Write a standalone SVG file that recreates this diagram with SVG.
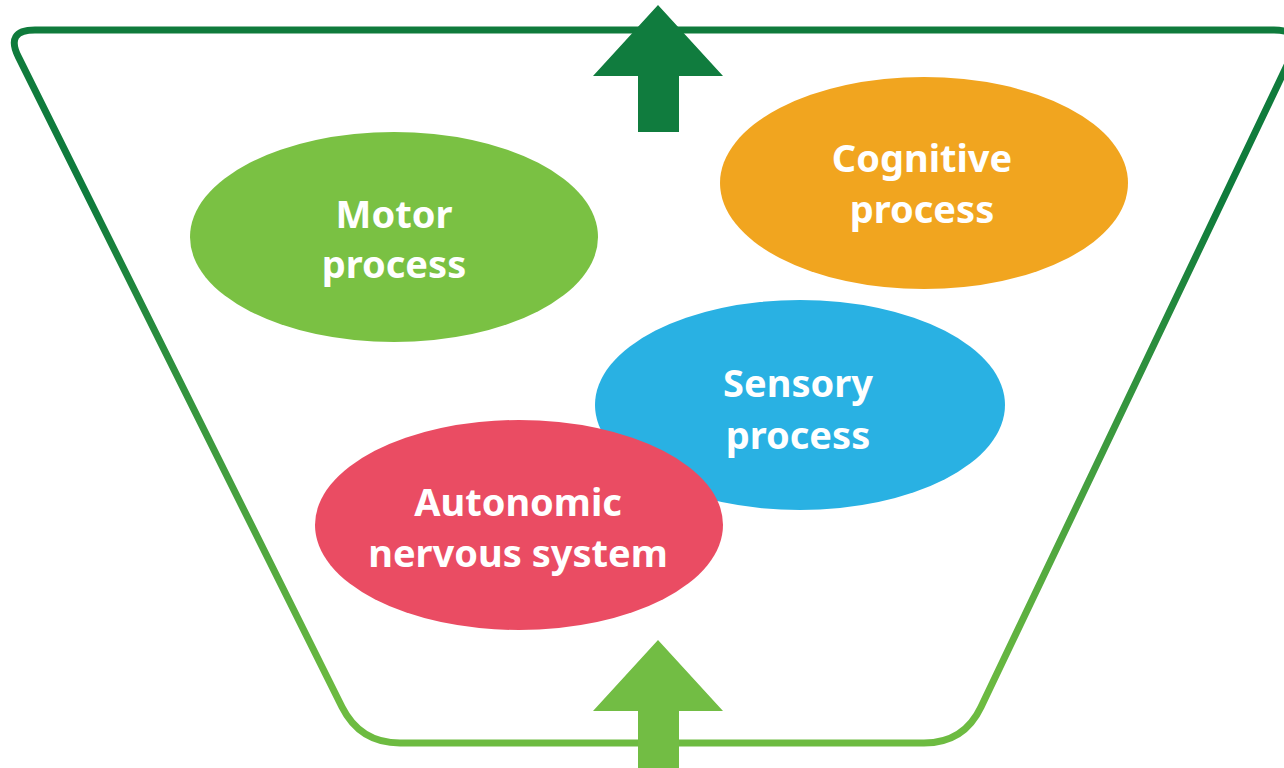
<svg xmlns="http://www.w3.org/2000/svg" width="1284" height="768" viewBox="0 0 1284 768">
  <defs>
    <linearGradient id="frameGrad" gradientUnits="userSpaceOnUse" x1="0" y1="200" x2="0" y2="700">
      <stop offset="0" stop-color="#0f7b3c"/>
      <stop offset="1" stop-color="#6dbb41"/>
    </linearGradient>
  </defs>
  <style>
    .frame { fill: none; stroke: url(#frameGrad); stroke-width: 7; stroke-linejoin: round; }
    .label { font-family: "Noto Sans", "Open Sans", "Liberation Sans", sans-serif; font-weight: 700; font-size: 38px; fill: #ffffff; text-anchor: middle; }
  </style>
  <rect x="0" y="0" width="1284" height="768" fill="#ffffff"/>

  <g id="frame">
    <path class="frame" d="M35,30 L1274,30 Q1304,30 1291,57 L981,707 Q964,743 924,743 L400,743 Q360,743 342,707 L18.4,56.9 Q5,30 35,30 Z"/>
  </g>

  <g id="connectors">
    <polygon id="arrow-top" fill="#107c3e" points="658,5 723,76 679,76 679,132 638,132 638,76 593,76"/>
    <polygon id="arrow-bottom" fill="#72bd44" points="658,640 723,711 679,711 679,768 638,768 638,711 593,711"/>
  </g>

  <g id="motor">
    <ellipse cx="394" cy="237" rx="204" ry="105" fill="#7ac143"/>
    <text class="label" x="394" y="228">Motor</text>
    <text class="label" x="394" y="278">process</text>
  </g>

  <g id="cognitive">
    <ellipse cx="924" cy="183" rx="204" ry="106" fill="#f1a51f"/>
    <text class="label" x="922" y="172">Cognitive</text>
    <text class="label" x="922" y="223">process</text>
  </g>

  <g id="sensory">
    <ellipse cx="800" cy="405" rx="205" ry="105" fill="#29b1e3"/>
    <text class="label" x="798" y="397">Sensory</text>
    <text class="label" x="798" y="449">process</text>
  </g>

  <g id="autonomic">
    <ellipse cx="519" cy="525" rx="204" ry="105" fill="#ea4c63"/>
    <text class="label" x="518" y="516">Autonomic</text>
    <text class="label" x="518" y="567">nervous system</text>
  </g>
</svg>
